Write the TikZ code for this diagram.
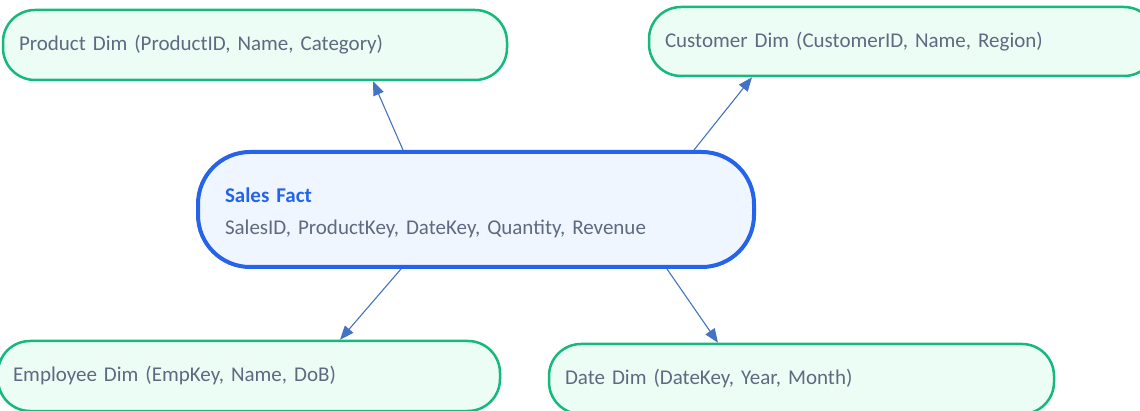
\documentclass[tikz,border=0pt]{standalone}
\usepackage{fontspec}
\setmainfont{Carlito}
\usetikzlibrary{arrows.meta}
\definecolor{DimGreen}{RGB}{22,185,125}
\definecolor{DimFill}{RGB}{236,253,245}
\definecolor{FactBlue}{RGB}{37,99,235}
\definecolor{FactFill}{RGB}{239,246,255}
\definecolor{LinkBlue}{RGB}{68,114,196}
\definecolor{TextGray}{RGB}{94,106,128}

\tikzset{
  dimbox/.style={draw=DimGreen,fill=DimFill,line width=2.5pt,rounded corners=32pt,
    minimum height=70pt,inner xsep=16pt,align=left,text=TextGray,
    font=\fontsize{21}{25}\selectfont},
  factbox/.style={draw=FactBlue,fill=FactFill,line width=4pt,rounded corners=52pt,
    minimum height=115pt,inner xsep=27pt,align=left,text=TextGray,
    font=\fontsize{21}{25}\selectfont},
  link/.style={LinkBlue,line width=1.1pt,-{Triangle[length=14pt,width=11pt]}}
}

\begin{document}
\begin{tikzpicture}[x=1pt,y=-1pt]
  \useasboundingbox (0,0) rectangle (1140,411);
  % fact table
  \node[factbox,text width=502pt] (sales) at (476,209.5)
    {\rule{0pt}{21pt}{\bfseries\color{FactBlue}Sales Fact}\\[7pt]
     SalesID, ProductKey, DateKey, Quantity, Revenue};
  % dimension tables
  \node[dimbox,text width=472pt] (prod) at (255,45)
    {Product Dim (ProductID, Name, Category)};
  \node[dimbox,text width=475pt,minimum height=69pt] (cust) at (902.5,41.5)
    {Customer Dim (CustomerID, Name, Region)};
  \node[dimbox,text width=472pt,inner xsep=15pt] (emp) at (249,376)
    {Employee Dim (EmpKey, Name, DoB)};
  \node[dimbox,text width=473pt] (date) at (801.5,379)
    {Date Dim (DateKey, Year, Month)};
  % star links
  \draw[link] ([xshift=-73pt]sales.north) -- ([xshift=118pt]prod.south);
  \draw[link] ([xshift=218pt]sales.north) -- ([xshift=-150.5pt]cust.south);
  \draw[link] ([xshift=-75pt]sales.south) -- ([xshift=91pt]emp.north);
  \draw[link] ([xshift=191pt]sales.south) -- ([xshift=-83.5pt]date.north);
\end{tikzpicture}
\end{document}
